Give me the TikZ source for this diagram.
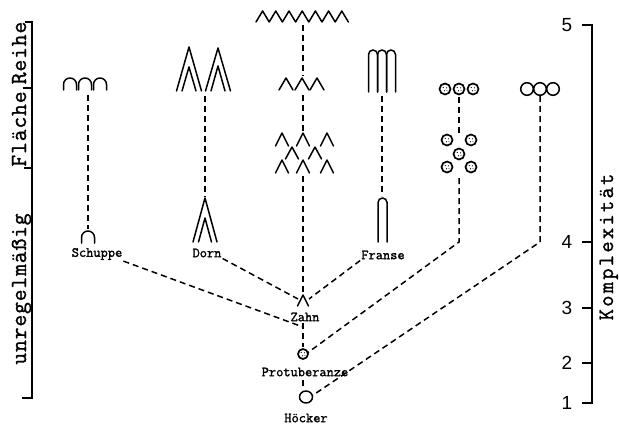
\documentclass[tikz,border=0pt]{standalone}
\usepackage{fontspec}
\newfontfamily\twfont{Latin Modern Mono}[FakeBold=1.2]
\newfontfamily\lablfont{Latin Modern Mono}[FakeBold=1.6]
\newfontfamily\numfont{Liberation Sans}
\tikzset{
  dl/.style={line width=1.5pt, dash pattern=on 6pt off 4pt},
  sym/.style={line width=1.5pt, line join=round, line cap=round},
  symb/.style={line width=1.7pt},
  axis/.style={line width=1.4pt},
  lab/.style={font=\lablfont\fontsize{14}{14}\selectfont, inner sep=1pt},
  axlab/.style={font=\twfont\addfontfeature{LetterSpace=3.6}\fontsize{23}{23}\selectfont, rotate=90, inner sep=0pt, anchor=base},
  num/.style={font=\numfont\fontsize{19}{19}\selectfont, inner sep=0pt},
}
\newcommand{\chev}[4]{% x, apex y, base y, half width
  \draw[sym] (#1-#4,-#3) -- (#1,-#2) -- (#1+#4,-#3);}
\newcommand{\arch}[4]{% x, top y, bottom y, radius
  \draw[sym] (#1-#4,-#3) -- (#1-#4,-#2-#4) arc (180:0:#4) -- (#1+#4,-#3);}
\newcommand{\stipc}[3]{% x, y, r
  \draw[sym,symb] (#1,-#2) circle (#3);
  \fill (#1-1.8,-#2+1.5) circle (0.6) (#1+1.6,-#2+1.2) circle (0.6) (#1-0.5,-#2-1.8) circle (0.6) (#1+1.9,-#2-1.4) circle (0.5);}
\begin{document}
\begin{tikzpicture}[x=1pt,y=1pt]
\useasboundingbox (0,0) rectangle (619,-428);

% ---------- left axis ----------
\draw[axis] (25,-22) -- (32,-22) -- (32,-398) -- (22,-398);
\draw[axis] (23,-88) -- (32,-88);
\draw[axis] (24,-168) -- (32,-168);
\node[axlab] (reihe) at (26,-53) {Reihe};
\node[axlab] (flaeche) at (26,-129) {Fläche};
\node[axlab] (unreg) at (26,-289) {unregelmäßig};

% ---------- right axis ----------
\draw[axis] (582,-25) -- (592,-25) -- (592,-403) -- (582,-403);
\foreach \yy in {242,308,363} \draw[axis] (582,-\yy) -- (592,-\yy);
\node[num] (n5) at (567,-25) {5};
\node[num] (n4) at (567,-242) {4};
\node[num] (n3) at (567,-308) {3};
\node[num] (n2) at (567,-363) {2};
\node[num] (n1) at (567,-403) {1};
\node[axlab, font=\twfont\addfontfeature{LetterSpace=10}\fontsize{22}{22}\selectfont] (kompl) at (613,-247) {Komplexität};

% ---------- Schuppe column ----------
\arch{70}{78}{90}{6.5}
\arch{85}{78}{90}{6.5}
\arch{100}{78}{90}{6.5}
\arch{88}{231}{243}{6.5}
\coordinate (sTop) at (88,-95);
\coordinate (sBot) at (88,-229);
\draw[dl] (sTop) -- (sBot);
\node[lab] (schuppe) at (97,-254) {Schuppe};

% ---------- Dorn column ----------
\chev{189}{47}{91}{12.5}
\chev{189}{67}{91}{7}
\chev{218}{48}{91}{12.5}
\chev{218}{66}{91}{7}
\chev{205}{198}{242}{12}
\chev{205}{218}{242}{6.5}
\coordinate (dTop) at (205,-96);
\coordinate (dBot) at (205,-197);
\draw[dl] (dTop) -- (dBot);
\node[lab] (dorn) at (207,-253) {Dorn};

% ---------- Zahn column ----------
\draw[sym] (256,-22) \foreach \i in {0,...,6} { -- ({262.6+13.2*\i},-11) -- ({269.2+13.2*\i},-22) };
\foreach \xx in {286,302,317} { \chev{\xx}{78}{90}{7} }
\foreach \xx in {282,303,327} { \chev{\xx}{133}{146}{6.5} }
\foreach \xx in {292,315} { \chev{\xx}{147}{159}{6.5} }
\foreach \xx in {282,303,327} { \chev{\xx}{160}{173}{6.5} }
\chev{303}{295}{306}{5.5}
\coordinate (z1) at (303,-25);
\coordinate (z2) at (303,-76);
\coordinate (z3) at (303,-95);
\coordinate (z4) at (303,-131);
\coordinate (z5) at (303,-176);
\coordinate (zApex) at (303,-294);
\draw[dl] (z1) -- (z2);
\draw[dl] (z3) -- (z4);
\draw[dl] (z5) -- (zApex);
\node[lab] (zahn) at (305,-317) {Zahn};
\coordinate (zJoin) at (303,-327);
\coordinate (zLow) at (303,-347);
\draw[dl] (zahn.south -| zJoin) -- (zLow);
\stipc{303}{354}{5}
\coordinate (prot) at (303,-354);
\node[lab] (protub) at (305,-372) {Protuberanze};
\coordinate (pr1) at (303,-380);
\coordinate (pr2) at (303,-390);
\draw[dl] (pr1) -- (pr2);
\draw[sym] (306,-397) ellipse (6.5 and 6);
\coordinate (hoeck) at (306,-397);
\node[lab] (hoecker) at (306,-418) {Höcker};

% ---------- Franse column ----------
\arch{373}{50}{92}{4.5}
\arch{382}{50}{92}{4.5}
\arch{391}{50}{92}{4.5}
\arch{382.5}{198}{242}{4.5}
\coordinate (fTop) at (382,-96);
\coordinate (fBot) at (382,-196);
\draw[dl] (fTop) -- (fBot);
\node[lab] (franse) at (383,-255) {Franse};

% ---------- stippled circles column ----------
\stipc{445}{89}{5.5}
\stipc{459}{89}{5.5}
\stipc{473}{89}{5.5}
\stipc{447}{140}{5.5}
\stipc{471}{140}{5.5}
\stipc{459}{154}{5.5}
\stipc{447}{167}{5.5}
\stipc{471}{167}{5.5}
\coordinate (pTop) at (459,-97);
\coordinate (pMid) at (459,-133);
\coordinate (pLow) at (459,-178);
\coordinate (pCorner) at (459,-242);
\draw[dl] (pTop) -- (pMid);
\draw[dl] (pLow) -- (pCorner) -- ([shift={(5,1.5)}]prot);

% ---------- plain circles column ----------
\draw[sym] (527,-89) circle (6.3) (540,-89) circle (6.3) (553,-89) circle (6.3);
\coordinate (hTop) at (540,-96);
\coordinate (hCorner) at (540,-242);
\draw[dl] (hTop) -- (hCorner) -- ([shift={(6.5,1.5)}]hoeck);

% ---------- diagonal connectors ----------
\draw[dl] (schuppe.south east) -- (zJoin);
\draw[dl] (dorn.south east) -- ([shift={(-5,-5)}]zApex);
\draw[dl] (franse.south west) -- ([shift={(6,-5)}]zApex);
\end{tikzpicture}
\end{document}
